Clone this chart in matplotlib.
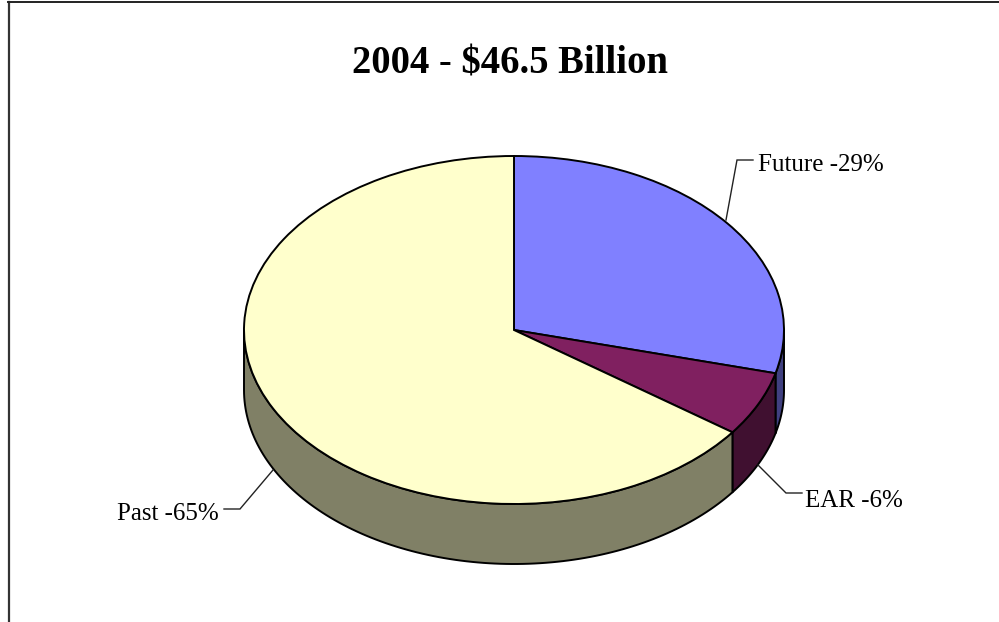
import numpy as np
import matplotlib
matplotlib.use("Agg")
import matplotlib.pyplot as plt
from matplotlib.lines import Line2D
from matplotlib.patches import Polygon

plt.rcParams['font.family'] = ['Liberation Serif', 'DejaVu Serif']

categories = ["Future", "EAR", "Past"]
shares = [29, 6, 65]
top_colors = ["#8080FF", "#802060", "#FFFFCC"]
side_colors = ["#404080", "#401030", "#808066"]
title = "2004 - \\$46.5 Billion"

W, H = 999, 622
CX, CY = 514, 330
RX, RY = 270, 174
DEPTH = 60 / RY


def px(x, y):
    # pixel position -> pie units
    return (x - CX) / RX, (CY - y) / RY


fig = plt.figure(figsize=(W / 100, H / 100), dpi=100)
ax = fig.add_axes([0, 0, 1, 1])

# side of the pie, only the front half shows
start = 90.0
for share, col in zip(shares, side_colors):
    end = start - share * 3.6
    a0, a1 = min(start, 0), max(end, -180)
    if a0 > a1:
        t = np.radians(np.linspace(a0, a1, 120))
        xs, ys = np.cos(t), np.sin(t)
        pts = np.vstack([np.c_[xs, ys], np.c_[xs[::-1], ys[::-1] - DEPTH]])
        ax.add_patch(Polygon(pts, closed=True, fc=col, ec="black", lw=1.4, joinstyle="round"))
    start = end

ax.pie(shares, colors=top_colors, startangle=90, counterclock=False, radius=1,
       wedgeprops=dict(edgecolor="black", linewidth=1.4))

ax.set_aspect("auto")
ax.set_xlim(-CX / RX, (W - CX) / RX)
ax.set_ylim((CY - H) / RY, CY / RY)
ax.axis("off")

# leader lines and labels
leaders = [
    [(726, 220), (737, 160), (753, 160)],
    [(758, 465), (786, 493), (802, 493)],
    [(273, 470), (240, 509), (224, 509)],
]
label_pos = [(758, 171), (805, 507), (117, 520)]
for name, share, line, pos in zip(categories, shares, leaders, label_pos):
    lx, ly = zip(*[px(*p) for p in line])
    ax.plot(lx, ly, color="#222222", lw=1.0, solid_joinstyle="miter")
    tx, ty = px(*pos)
    ax.text(tx, ty, f"{name} -{share}%", fontsize=18, color="black", ha="left", va="baseline")

tx, ty = px(510, 74)
ax.text(tx, ty, title, fontsize=27.8, fontweight="bold", ha="center", va="baseline", color="black")

# chart area border: left and top edges only
fig.add_artist(Line2D([9 / W, 9 / W], [0, 1 - 1.5 / H], color="#333333", lw=1.6))
fig.add_artist(Line2D([8 / W, 1], [1 - 1.5 / H, 1 - 1.5 / H], color="#222222", lw=1.4))

fig.savefig("out.png", dpi=100, facecolor="white")
